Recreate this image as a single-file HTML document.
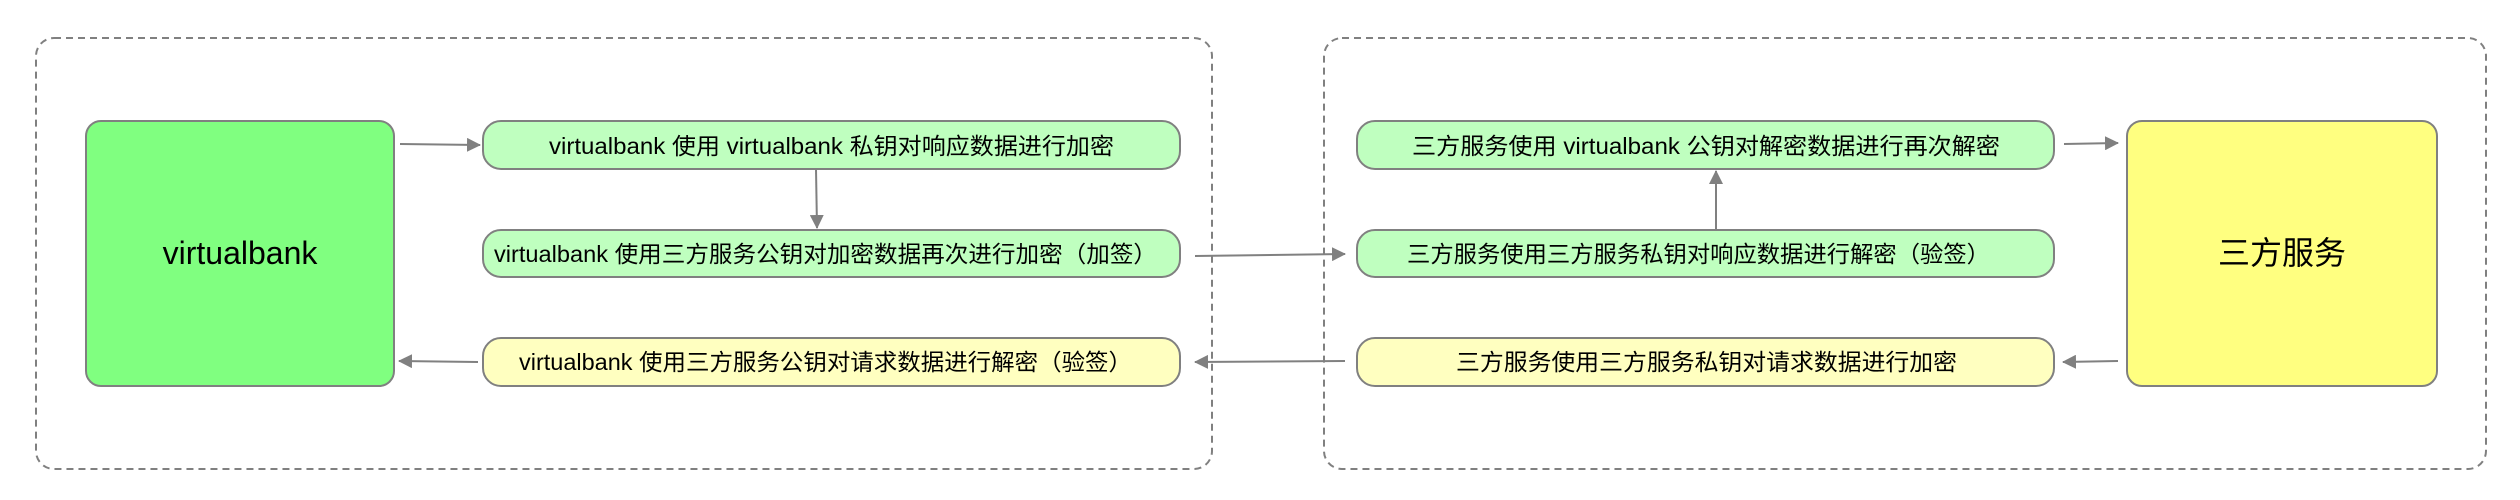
<!DOCTYPE html>
<html><head><meta charset="utf-8"><style>
html,body{margin:0;padding:0;background:#fff;width:2520px;height:500px;overflow:hidden}
text{font-family:"Liberation Sans","Noto Sans CJK SC",sans-serif;fill:#000}
</style></head><body>
<svg width="2520" height="500" viewBox="0 0 2520 500" xmlns="http://www.w3.org/2000/svg">
<defs>
<marker id="b" markerWidth="14" markerHeight="14" refX="13" refY="7" orient="auto" markerUnits="userSpaceOnUse"><path d="M0,0 L14,7 L0,14 Z" fill="#808080"/></marker>
</defs>
<rect x="36" y="38" width="1176" height="431" rx="18" fill="none" stroke="#808080" stroke-width="2" stroke-dasharray="7,5"/>
<rect x="1324" y="38" width="1162" height="431" rx="18" fill="none" stroke="#808080" stroke-width="2" stroke-dasharray="7,5"/>

<rect x="86" y="121" width="308" height="265" rx="15" fill="#80ff80" stroke="#808080" stroke-width="2"/>
<text x="240" y="264" font-size="32" text-anchor="middle">virtualbank</text>
<rect x="2127" y="121" width="310" height="265" rx="15" fill="#ffff80" stroke="#808080" stroke-width="2"/>
<text x="2282" y="264" font-size="32" text-anchor="middle">三方服务</text>

<g stroke="#808080" stroke-width="2">
<rect x="483" y="121" width="697" height="48" rx="18" fill="#bfffbf"/>
<rect x="483" y="230" width="697" height="47" rx="18" fill="#bfffbf"/>
<rect x="483" y="338" width="697" height="48" rx="18" fill="#ffffc0"/>
<rect x="1357" y="121" width="697" height="48" rx="18" fill="#bfffbf"/>
<rect x="1357" y="230" width="697" height="47" rx="18" fill="#bfffbf"/>
<rect x="1357" y="338" width="697" height="48" rx="18" fill="#ffffc0"/>
</g>
<g font-size="23" lengthAdjust="spacingAndGlyphs">
<text x="549" y="154" textLength="565" lengthAdjust="spacingAndGlyphs">virtualbank 使用 virtualbank 私钥对响应数据进行加密</text>
<text x="494" y="262" textLength="663" lengthAdjust="spacingAndGlyphs">virtualbank 使用三方服务公钥对加密数据再次进行加密（加签）</text>
<text x="519" y="370" textLength="613" lengthAdjust="spacingAndGlyphs">virtualbank 使用三方服务公钥对请求数据进行解密（验签）</text>
<text x="1412" y="154" textLength="588" lengthAdjust="spacingAndGlyphs">三方服务使用 virtualbank 公钥对解密数据进行再次解密</text>
<text x="1407" y="262" textLength="583" lengthAdjust="spacingAndGlyphs">三方服务使用三方服务私钥对响应数据进行解密（验签）</text>
<text x="1456" y="370" textLength="501" lengthAdjust="spacingAndGlyphs">三方服务使用三方服务私钥对请求数据进行加密</text>
</g>
<g stroke="#808080" stroke-width="2" fill="none" marker-end="url(#b)">
<line x1="400" y1="144" x2="480" y2="145"/>
<line x1="816" y1="169" x2="817" y2="228"/>
<line x1="1195" y1="256" x2="1345" y2="254"/>
<line x1="1345" y1="361" x2="1195" y2="362"/>
<line x1="478" y1="362" x2="399" y2="361"/>
<line x1="2064" y1="144" x2="2118" y2="143"/>
<line x1="1716" y1="230" x2="1716" y2="171"/>
<line x1="2118" y1="361" x2="2063" y2="362"/>
</g>
</svg>
</body></html>
